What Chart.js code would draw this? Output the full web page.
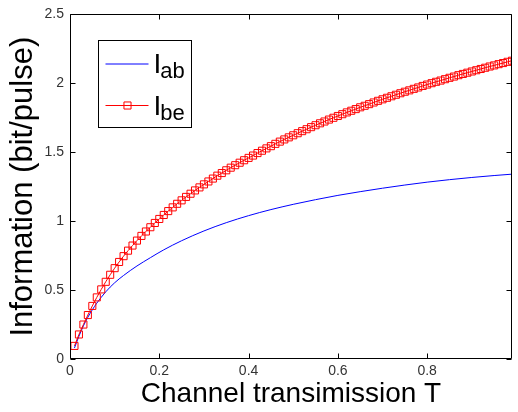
<!DOCTYPE html>
<html>
<head>
<meta charset="utf-8">
<script src="https://cdn.jsdelivr.net/npm/chart.js@4/dist/chart.umd.min.js"></script>
<style>
  html, body { margin: 0; padding: 0; background: #fff; }
  #wrap { width: 518px; height: 412px; }
</style>
</head>
<body>
<div id="wrap"><canvas id="chart" width="518" height="412"></canvas></div>
<script>
// Channel transmission grid for the I_be series
const transmission = [
  0.01,0.02,0.03,0.04,0.05,0.06,0.07,0.08,0.09,0.10,
  0.11,0.12,0.13,0.14,0.15,0.16,0.17,0.18,0.19,0.20,
  0.21,0.22,0.23,0.24,0.25,0.26,0.27,0.28,0.29,0.30,
  0.31,0.32,0.33,0.34,0.35,0.36,0.37,0.38,0.39,0.40,
  0.41,0.42,0.43,0.44,0.45,0.46,0.47,0.48,0.49,0.50,
  0.51,0.52,0.53,0.54,0.55,0.56,0.57,0.58,0.59,0.60,
  0.61,0.62,0.63,0.64,0.65,0.66,0.67,0.68,0.69,0.70,
  0.71,0.72,0.73,0.74,0.75,0.76,0.77,0.78,0.79,0.80,
  0.81,0.82,0.83,0.84,0.85,0.86,0.87,0.88,0.89,0.90,
  0.91,0.92,0.93,0.94,0.95,0.96,0.97,0.98,0.99
];

// I_be (bit/pulse)
const infoBE = [
  0.095,0.178,0.250,0.319,0.385,0.447,0.505,0.560,0.611,0.659,
  0.704,0.746,0.786,0.823,0.859,0.893,0.925,0.956,0.987,1.016,
  1.045,1.073,1.100,1.126,1.151,1.176,1.199,1.223,1.245,1.267,
  1.288,1.309,1.330,1.349,1.369,1.388,1.406,1.424,1.442,1.459,
  1.476,1.494,1.511,1.528,1.544,1.561,1.577,1.593,1.608,1.623,
  1.638,1.653,1.667,1.682,1.696,1.710,1.723,1.737,1.750,1.763,
  1.776,1.789,1.801,1.813,1.826,1.837,1.849,1.861,1.873,1.884,
  1.895,1.906,1.917,1.928,1.939,1.949,1.960,1.970,1.981,1.991,
  2.001,2.011,2.020,2.030,2.040,2.049,2.059,2.068,2.077,2.086,
  2.095,2.104,2.113,2.122,2.130,2.139,2.147,2.156,2.164
];

// I_ab (bit/pulse), sampled along T
const transmissionAB = [
  0.01,0.02,0.03,0.04,0.05,0.06,0.08,0.10,0.12,0.15,
  0.18,0.21,0.25,0.30,0.35,0.40,0.45,0.50,0.55,0.60,
  0.65,0.70,0.75,0.80,0.85,0.90,0.95,0.99
];
const infoAB = [
  0.080,0.165,0.240,0.303,0.357,0.405,0.487,0.553,0.606,0.675,
  0.735,0.792,0.858,0.929,0.989,1.040,1.084,1.122,1.156,1.187,
  1.214,1.239,1.262,1.283,1.301,1.317,1.331,1.341
];

const xTicks = [0, 0.2, 0.4, 0.6, 0.8];
const yTicks = [0, 0.5, 1, 1.5, 2, 2.5];
const seriesNames = [
  { main: 'I', sub: 'ab' },
  { main: 'I', sub: 'be' }
];
const xTitle = 'Channel transimission T';
const yTitle = 'Information (bit/pulse)';

const FONT = '"Liberation Sans", Arial, Helvetica, sans-serif';

// Box around the plot with inward ticks on all four sides
const boxPlugin = {
  id: 'boxTicks',
  afterDatasetsDraw(chart) {
    const { ctx, chartArea: a, scales } = chart;
    const L = Math.round(a.left) + 0.5, R = Math.round(a.right) - 0.5;
    const T = Math.round(a.top) + 0.5, B = Math.round(a.bottom) - 0.5;
    const len = 5;
    ctx.save();
    ctx.strokeStyle = '#000';
    ctx.lineWidth = 1;
    ctx.beginPath();
    ctx.rect(L, T, R - L, B - T);
    for (const v of xTicks) {
      const px = Math.round(scales.x.getPixelForValue(v)) + 0.5;
      ctx.moveTo(px, B); ctx.lineTo(px, B - len);
      ctx.moveTo(px, T); ctx.lineTo(px, T + len);
    }
    for (const v of yTicks) {
      const py = Math.round(scales.y.getPixelForValue(v)) + 0.5;
      ctx.moveTo(L, py); ctx.lineTo(L + len, py);
      ctx.moveTo(R, py); ctx.lineTo(R - len, py);
    }
    ctx.stroke();
    ctx.restore();
  }
};

// Legend with subscripted series names
const legendPlugin = {
  id: 'subLegend',
  afterDraw(chart) {
    const { ctx, chartArea: a } = chart;
    const x0 = Math.round(a.left) + 28.5, y0 = Math.round(a.top) + 26.5;
    const w = 93, h = 87;
    ctx.save();
    ctx.fillStyle = '#fff';
    ctx.fillRect(x0, y0, w, h);
    ctx.strokeStyle = '#000';
    ctx.lineWidth = 1;
    ctx.strokeRect(x0, y0, w, h);
    const rows = [
      { ds: chart.data.datasets[1], name: seriesNames[0], ly: y0 + 23.5 },
      { ds: chart.data.datasets[0], name: seriesNames[1], ly: y0 + 65 }
    ];
    for (const r of rows) {
      const lx1 = x0 + 7, lx2 = x0 + 50;
      ctx.strokeStyle = r.ds.borderColor;
      ctx.lineWidth = r.ds.borderWidth;
      ctx.beginPath();
      ctx.moveTo(lx1, r.ly);
      ctx.lineTo(lx2, r.ly);
      ctx.stroke();
      if (r.ds.pointRadius > 0) {
        ctx.strokeStyle = r.ds.pointBorderColor;
        ctx.fillStyle = 'rgba(0,0,0,0)';
        ctx.lineWidth = r.ds.pointBorderWidth;
        Chart.helpers.drawPoint(ctx, {
          pointStyle: r.ds.pointStyle,
          radius: r.ds.pointRadius,
          borderWidth: r.ds.pointBorderWidth
        }, Math.round((lx1 + lx2) / 2) + 0.5, r.ly);
      }
      ctx.fillStyle = '#000';
      ctx.textBaseline = 'alphabetic';
      ctx.textAlign = 'left';
      ctx.font = '28px ' + FONT;
      const tx = x0 + 55;
      ctx.fillText(r.name.main, tx, r.ly + 9);
      const mw = ctx.measureText(r.name.main).width;
      ctx.font = '22px ' + FONT;
      ctx.fillText(r.name.sub, tx + mw - 1, r.ly + 14);
    }
    ctx.restore();
  }
};

const ctx = document.getElementById('chart').getContext('2d');
new Chart(ctx, {
  type: 'scatter',
  data: {
    datasets: [
      {
        label: seriesNames[1].main + seriesNames[1].sub,
        data: transmission.map((t, i) => ({ x: t, y: infoBE[i] })),
        showLine: true,
        borderColor: '#ff0000',
        borderWidth: 1,
        backgroundColor: 'rgba(0,0,0,0)',
        pointStyle: 'rect',
        pointRadius: 5,
        pointBorderWidth: 1,
        pointBorderColor: '#ff0000',
        pointBackgroundColor: 'rgba(0,0,0,0)',
        order: 0
      },
      {
        label: seriesNames[0].main + seriesNames[0].sub,
        data: transmissionAB.map((t, i) => ({ x: t, y: infoAB[i] })),
        showLine: true,
        borderColor: '#0000ff',
        borderWidth: 1,
        pointRadius: 0,
        cubicInterpolationMode: 'monotone',
        order: 1
      }
    ]
  },
  options: {
    responsive: false,
    animation: false,
    devicePixelRatio: 1,
    layout: { padding: { top: 8, right: 1, left: 0, bottom: 0 } },
    plugins: { legend: { display: false }, tooltip: { enabled: false } },
    scales: {
      x: {
        type: 'linear',
        min: 0,
        max: 0.99,
        afterBuildTicks: s => { s.ticks = xTicks.map(v => ({ value: v })); },
        afterFit: s => { s.height = 53; },
        grid: { display: false, drawTicks: false },
        border: { display: false },
        ticks: {
          padding: 4,
          color: '#333',
          font: { family: FONT, size: 14 },
          callback: v => String(v)
        },
        title: {
          display: true,
          text: xTitle,
          color: '#000',
          font: { family: FONT, size: 28 },
          padding: { top: 0, bottom: 1 }
        }
      },
      y: {
        type: 'linear',
        min: 0,
        max: 2.5,
        afterBuildTicks: s => { s.ticks = yTicks.map(v => ({ value: v })); },
        afterFit: s => { s.width = 70; },
        grid: { display: false, drawTicks: false },
        border: { display: false },
        ticks: {
          padding: 6,
          color: '#333',
          font: { family: FONT, size: 14 },
          callback: v => String(v)
        },
        title: {
          display: true,
          text: yTitle,
          color: '#000',
          font: { family: FONT, size: 31 },
          padding: { top: 5, bottom: 0 }
        }
      }
    }
  },
  plugins: [boxPlugin, legendPlugin]
});
</script>
</body>
</html>
